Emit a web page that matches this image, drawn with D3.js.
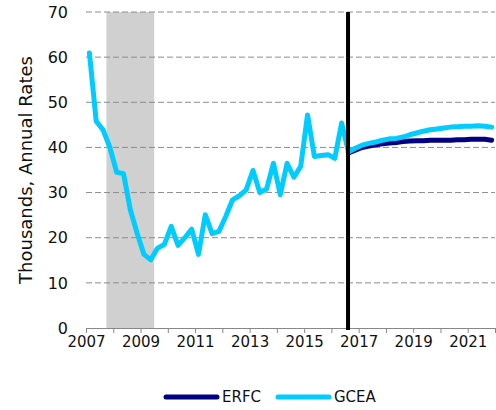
<!DOCTYPE html>
<html>

<head>
  <meta charset=utf-8>
  <title>ERFC vs GCEA</title>
</head>

<script src="https://d3js.org/d3.v7.min.js"></script>

<style>
  body { margin: 0; background: #fff; }
  text { font-family: 'DejaVu Sans', Verdana, sans-serif; fill: #111; }
</style>

<body>
  <div id='chart'></div>
</body>

<script>

// quarterly, 2007Q1 .. 2021Q4
var firstYear = 2007;
var gcea = [60.9, 45.8, 43.9, 40.0, 34.5, 34.2, 26.2, 21.0, 16.3, 15.1,
  17.7, 18.5, 22.5, 18.3, 20.0, 21.9, 16.3, 25.1, 20.9, 21.4,
  24.7, 28.4, 29.3, 30.6, 34.9, 30.0, 30.8, 36.5, 29.5, 36.5,
  33.4, 35.8, 47.2, 38.0, 38.2, 38.4, 37.6, 45.4,
  // forecast
  39.0, 39.8, 40.5, 40.9, 41.2, 41.6, 41.9, 42.0, 42.3, 42.8,
  43.2, 43.6, 43.9, 44.1, 44.3, 44.5, 44.6, 44.7, 44.7, 44.8,
  44.7, 44.5];
var erfc = [null, null, null, null, null, null, null, null, null, null,
  null, null, null, null, null, null, null, null, null, null,
  null, null, null, null, null, null, null, null, null, null,
  null, null, null, null, null, null, null, null,
  38.8, 39.4, 40.0, 40.3, 40.6, 40.8, 41.0, 41.1, 41.3, 41.4,
  41.5, 41.5, 41.6, 41.6, 41.6, 41.6, 41.7, 41.7, 41.8, 41.8,
  41.8, 41.6];

var yTicks = [0, 10, 20, 30, 40, 50, 60, 70];
var yearTicks = [2007, 2008, 2009, 2010, 2011, 2012, 2013, 2014, 2015, 2016, 2017, 2018, 2019, 2020, 2021, 2022];
var yearLabels = [2007, 2009, 2011, 2013, 2015, 2017, 2019, 2021];
var recession = [2007.75, 2009.5];
var forecastStart = 2016.61;
var seriesNames = ['ERFC', 'GCEA'];
var seriesColors = ['#000080', '#00CCFF'];

var width = 496, height = 410;
var margin = {top: 12, right: 1, bottom: 82, left: 86};

var svg = d3.select('#chart').append('svg')
  .attr('width', width)
  .attr('height', height);

var x = d3.scaleLinear()
  .domain([2007, 2022])
  .range([margin.left, width - margin.right]);
var y = d3.scaleLinear()
  .domain([0, 70])
  .range([height - margin.bottom, margin.top]);

// quarter midpoint in decimal years
var qx = function (i) { return firstYear + i / 4 + 0.125; };

// recession shade
svg.append('rect')
  .attr('x', x(recession[0]))
  .attr('width', x(recession[1]) - x(recession[0]))
  .attr('y', y(70))
  .attr('height', y(0) - y(70))
  .attr('fill', '#d0d0d0');

// gridlines
svg.append('g')
  .selectAll('line')
  .data(yTicks.filter(function (d) { return d > 0; }))
  .enter().append('line')
    .attr('x1', x(2007))
    .attr('x2', x(2022))
    .attr('y1', function (d) { return y(d); })
    .attr('y2', function (d) { return y(d); })
    .attr('stroke', '#8c8c8c')
    .attr('stroke-width', 1)
    .attr('stroke-dasharray', '6,3');

// y labels (no axis line)
svg.append('g')
  .selectAll('text')
  .data(yTicks)
  .enter().append('text')
    .attr('x', margin.left - 18)
    .attr('y', function (d) { return y(d); })
    .attr('dy', '0.36em')
    .attr('text-anchor', 'end')
    .style('font-size', '16px')
    .text(function (d) { return d; });

// x axis
var xAxis = svg.append('g')
  .attr('transform', 'translate(0,' + y(0) + ')')
  .call(d3.axisBottom(x)
    .tickValues(yearTicks)
    .tickSize(5)
    .tickFormat(function (d) { return yearLabels.indexOf(d) >= 0 ? d : ''; }));
xAxis.select('.domain').attr('stroke', '#888');
xAxis.selectAll('.tick line').attr('stroke', '#888');
xAxis.selectAll('.tick text')
  .attr('y', 8)
  .style('font-size', '15px')
  .style('font-family', "'DejaVu Sans', Verdana, sans-serif")
  .attr('fill', '#111');

// lines
var line = d3.line()
  .defined(function (d) { return d != null; })
  .x(function (d, i) { return x(qx(i)); })
  .y(function (d) { return y(d); });

[erfc, gcea].forEach(function (s, k) {
  svg.append('path')
    .datum(s)
    .attr('fill', 'none')
    .attr('stroke', seriesColors[k])
    .attr('stroke-width', 5)
    .attr('stroke-linejoin', 'round')
    .attr('stroke-linecap', 'round')
    .attr('d', line);
});

// forecast divider
svg.append('line')
  .attr('x1', x(forecastStart))
  .attr('x2', x(forecastStart))
  .attr('y1', y(70))
  .attr('y2', y(0) + 2)
  .attr('stroke', '#000')
  .attr('stroke-width', 4);

// y title
svg.append('text')
  .attr('transform', 'translate(32,' + (y(35)) + ') rotate(-90)')
  .attr('text-anchor', 'middle')
  .style('font-size', '18px')
  .text('Thousands, Annual Rates');

// legend
var legendX = [166, 278];
var legend = svg.append('g')
  .selectAll('g')
  .data(seriesNames)
  .enter().append('g')
    .attr('transform', function (d, i) { return 'translate(' + legendX[i] + ',397)'; });
legend.append('line')
  .attr('x1', 0).attr('x2', 51)
  .attr('stroke', function (d, i) { return seriesColors[i]; })
  .attr('stroke-width', 5)
  .attr('stroke-linecap', 'round');
legend.append('text')
  .attr('x', 56)
  .attr('dy', '0.36em')
  .style('font-size', '15px')
  .text(function (d) { return d; });

</script>

</html>
